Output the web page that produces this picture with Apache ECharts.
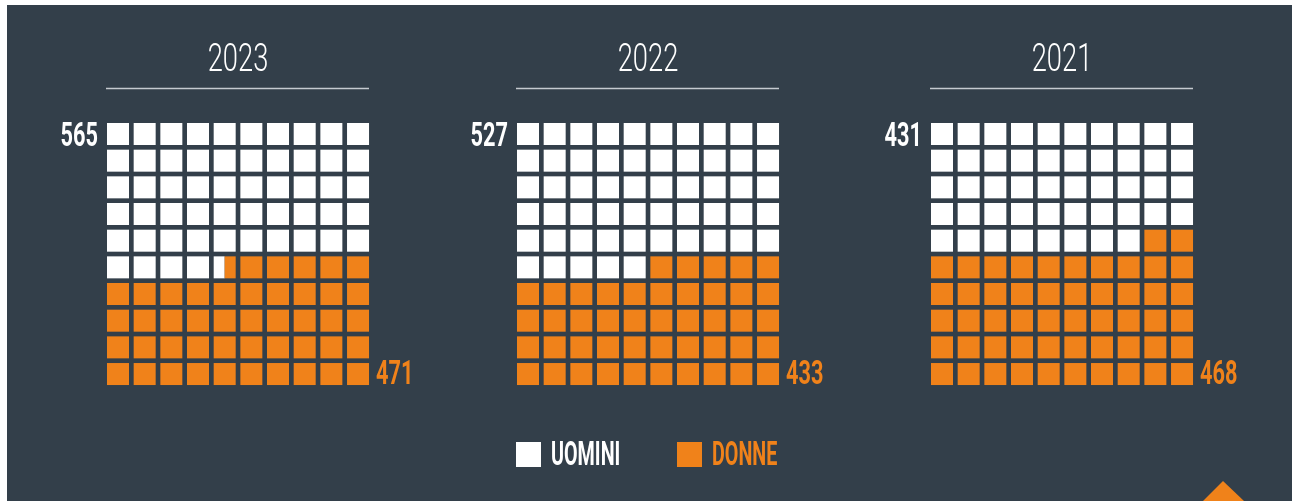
<!DOCTYPE html>
<html style="height: 100%">
<head>
    <meta charset="utf-8">
</head>
<body style="height: 100%; margin: 0; background: #fff">
<div id="container" style="width: 1293px; height: 501px"></div>
<script type="text/javascript" src="https://cdn.jsdelivr.net/npm/echarts@6/dist/echarts.min.js"></script>
<script type="text/javascript">
var anni = ['2023', '2022', '2021'];
var uomini = [565, 527, 431];
var donne = [471, 433, 468];
var voci = ['UOMINI', 'DONNE'];

var BIANCO = '#ffffff';
var ARANCIO = '#f0821a';
var SFONDO = '#333f4a';
var FONT = 'Roboto, "Liberation Sans Narrow", sans-serif';

var gridLeft = [107, 517, 931];
var passo = 26.67;   // cell pitch, cell itself is 22px

var dom = document.getElementById('container');
var myChart = echarts.init(dom, null, { renderer: 'canvas' });

// 10x10 waffle, women fill from bottom-right, share rounded to half a cell
function celle(u, d) {
    var quota = Math.round(d / (u + d) * 200) / 2;
    var res = [];
    for (var r = 0; r < 10; r++) {
        for (var c = 0; c < 10; c++) {
            var k = (9 - r) * 10 + (9 - c);
            var f = Math.max(0, Math.min(1, quota - k));
            res.push([c, r, f]);
        }
    }
    return res;
}

function numero(testo, x, y, align, colore) {
    return {
        type: 'text',
        x: x, y: y,
        scaleX: 0.64,
        style: {
            text: testo, x: 0, y: 0,
            fill: colore,
            fontSize: 34, fontFamily: FONT, fontWeight: 'bold',
            align: align, verticalAlign: 'middle'
        }
    };
}

function disegna(tipo, i) {
    return function (params, api) {
        var c = api.value(0), r = api.value(1), f = api.value(2);
        var p = api.coord([c, r]);
        var s = api.size([1, 1]);
        var w = s[0] * 0.825, h = s[1] * 0.825;
        var figli = [];
        if (tipo === 'U') {
            figli.push({ type: 'rect', shape: { x: p[0], y: p[1], width: w * (1 - f), height: h }, style: { fill: BIANCO } });
            if (params.dataIndex === 0) {
                figli.push(numero(String(uomini[i]), p[0] - 9, p[1] + 14, 'right', BIANCO));
            }
        } else {
            figli.push({ type: 'rect', shape: { x: p[0] + w * (1 - f), y: p[1], width: w * f, height: h }, style: { fill: ARANCIO } });
            if (params.dataIndex === 99) {
                figli.push(numero(String(donne[i]), p[0] + w + 7, p[1] + 12, 'left', ARANCIO));
            }
        }
        return { type: 'group', children: figli };
    };
}

var grids = [], xAxes = [], yAxes = [], series = [], graphic = [];

graphic.push({ type: 'rect', z: -10, shape: { x: 7, y: 5, width: 1285, height: 496 }, style: { fill: SFONDO } });

anni.forEach(function (anno, i) {
    var L = gridLeft[i];
    grids.push({ left: L, top: 123, width: passo * 10, height: passo * 10 });
    xAxes.push({ gridIndex: i, type: 'value', min: 0, max: 10, show: false });
    yAxes.push({ gridIndex: i, type: 'value', min: 0, max: 10, inverse: true, show: false });
    var dati = celle(uomini[i], donne[i]);
    series.push({
        name: voci[0], type: 'custom', xAxisIndex: i, yAxisIndex: i,
        itemStyle: { color: BIANCO }, silent: true,
        renderItem: disegna('U', i), data: dati
    });
    series.push({
        name: voci[1], type: 'custom', xAxisIndex: i, yAxisIndex: i,
        itemStyle: { color: ARANCIO }, silent: true,
        renderItem: disegna('D', i), data: dati
    });
    graphic.push({
        type: 'text', x: L + 131, y: 61.5, scaleX: 0.7,
        style: { text: anno, x: 0, y: 0, fill: BIANCO, fontSize: 39, fontFamily: FONT, fontWeight: 300, align: 'center', verticalAlign: 'middle' }
    });
    graphic.push({
        type: 'line', shape: { x1: L - 1, y1: 88.5, x2: L + 262, y2: 88.5 },
        style: { stroke: '#c5cad0', lineWidth: 1.5 }
    });
});

// legend, drawn by hand so the condensed lettering can be matched
var legX = [516, 677];
var legCol = [BIANCO, ARANCIO];
voci.forEach(function (v, k) {
    graphic.push({ type: 'rect', shape: { x: legX[k], y: 442, width: 25, height: 25 }, style: { fill: legCol[k] } });
    graphic.push({
        type: 'text', x: legX[k] + 35, y: 456, scaleX: 0.58,
        style: { text: v, x: 0, y: 0, fill: legCol[k], fontSize: 34, fontFamily: FONT, fontWeight: 'bold', align: 'left', verticalAlign: 'middle' }
    });
});

graphic.push({ type: 'polygon', shape: { points: [[1203, 501], [1223, 481], [1244, 501]] }, style: { fill: ARANCIO } });

var option = {
    backgroundColor: '#ffffff',
    animation: false,
    grid: grids,
    xAxis: xAxes,
    yAxis: yAxes,
    graphic: graphic,
    series: series
};

myChart.setOption(option);
</script>
</body>
</html>
